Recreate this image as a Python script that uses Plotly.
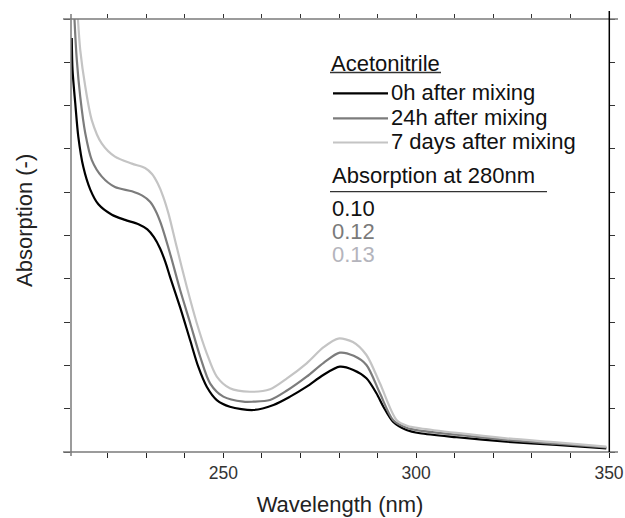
import plotly.graph_objects as go

# ---------------- data ----------------
wl_0h = [210.7, 210.9, 211.6, 212.4, 213.7, 215.5, 217.6, 221.1, 224.5, 228.0, 230.3, 232.0,
         233.6, 235.0, 236.2, 238.8, 241.4, 243.5, 245.7, 248.3, 251.7, 257.8, 263.0, 267.3, 271.6,
         275.9, 280.2, 283.7, 287.1, 289.7, 291.5, 294.0, 297.5, 301.0, 310.5, 323.4, 336.4, 349.3]
abs_0h = [0.478, 0.441, 0.403, 0.364, 0.329, 0.303, 0.286, 0.274, 0.268, 0.263, 0.257, 0.248,
          0.235, 0.219, 0.202, 0.167, 0.129, 0.0985, 0.0754, 0.060, 0.0523, 0.0485, 0.0543, 0.0639, 0.0754,
          0.0889, 0.0985, 0.0947, 0.0851, 0.0678, 0.0523, 0.035, 0.0254, 0.0216, 0.017, 0.0119, 0.0081, 0.0043]

wl_24h = [210.9, 211.4, 212.0, 212.9, 214.2, 215.9, 218.5, 221.9, 226.3, 229.0, 231.0, 232.4, 233.8,
          236.2, 238.8, 241.4, 244.0, 246.6, 250.0, 255.2, 257.7, 262.1, 266.5, 271.6, 276.0,
          280.2, 283.8, 287.1, 290.6, 294.0, 297.5, 301.0, 310.5, 323.4, 336.4, 349.3]
abs_24h = [0.56, 0.50, 0.453, 0.410, 0.368, 0.337, 0.318, 0.306, 0.301, 0.296, 0.289, 0.279, 0.264,
           0.229, 0.187, 0.149, 0.110, 0.079, 0.0639, 0.0581, 0.0581, 0.060, 0.071, 0.087, 0.103,
           0.1147, 0.111, 0.1005, 0.0678, 0.037, 0.028, 0.0246, 0.020, 0.0139, 0.0095, 0.0054]

wl_7d = [211.6, 212.3, 212.9, 214.2, 215.9, 218.5, 221.9, 226.3, 229.7, 231.5, 233.0, 234.4,
         235.8, 237.9, 240.5, 243.1, 245.7, 248.3, 251.7, 256.9, 262.1, 266.5, 271.6, 276.0, 279.8,
         283.6, 287.1, 290.6, 294.9, 297.8, 301.0, 310.5, 323.4, 336.4, 349.3]
abs_7d = [0.56, 0.50, 0.464, 0.422, 0.383, 0.356, 0.341, 0.333, 0.328, 0.321, 0.310, 0.295,
          0.275, 0.237, 0.191, 0.149, 0.114, 0.087, 0.0736, 0.0696, 0.0724, 0.085, 0.1024, 0.121, 0.131,
          0.127, 0.112, 0.0793, 0.037, 0.030, 0.0274, 0.022, 0.0158, 0.011, 0.0061]

series_names = ["0h after mixing", "24h after mixing", "7 days after mixing"]
series_colors = ["#000000", "#7c7c7c", "#c4c4c4"]
abs280_labels = ["0.10", "0.12", "0.13"]
abs280_colors = ["#111111", "#7a7a7a", "#b4b4bc"]
x_tick_vals = list(range(210, 351, 10))
x_tick_text = ["250" if v == 250 else "300" if v == 300 else "350" if v == 350 else "" for v in x_tick_vals]
y_tick_vals = [i * 0.05 for i in range(0, 11)]

# ---------------- figure ----------------
W, H = 625, 518
L, R, T, B = 71, 16, 19, 66
PW, PH = W - L - R, H - T - B

def px(x):
    return (x - L) / PW

def py(y):
    return (H - B - y) / PH

FONT = "Arial, Liberation Sans, sans-serif"

fig = go.Figure()
for wl, ab, name, col in zip([wl_0h, wl_24h, wl_7d], [abs_0h, abs_24h, abs_7d],
                             series_names, series_colors):
    fig.add_trace(go.Scatter(x=wl, y=ab, mode="lines", name=name,
                             line=dict(color=col, width=2.2, shape="spline", smoothing=0.8),
                             showlegend=False, xaxis="x", yaxis="y"))

# invisible trace so the mirrored (top / right) tick axes are drawn
fig.add_trace(go.Scatter(x=[210.5], y=[0], mode="markers", marker=dict(opacity=0),
                         showlegend=False, xaxis="x2", yaxis="y2", hoverinfo="skip"))

XR = [210.5, 350]
YR = [0, 0.5]
fig.update_layout(
    width=W, height=H,
    margin=dict(l=L, r=R, t=T, b=B, autoexpand=False),
    paper_bgcolor="white", plot_bgcolor="white",
    font=dict(family=FONT, color="#222222"),
    xaxis=dict(range=XR, tickmode="array", tickvals=x_tick_vals, ticktext=x_tick_text,
               ticks="outside", ticklen=5, tickwidth=1.3, tickcolor="#222222",
               showgrid=False, zeroline=False, showline=False, automargin=False,
               tickfont=dict(size=17.5, color="#333333"),
               title=dict(text="Wavelength (nm)", font=dict(size=22, color="#222222"), standoff=14)),
    yaxis=dict(range=YR, tickmode="array", tickvals=y_tick_vals, ticks="outside", ticklen=6,
               tickwidth=1.3, tickcolor="#333333", showticklabels=False, automargin=False,
               showgrid=False, zeroline=False, showline=False),
    xaxis2=dict(range=XR, overlaying="x", side="top", tickmode="array", tickvals=x_tick_vals,
                ticks="outside", ticklen=4, tickwidth=1.3, tickcolor="#333333", automargin=False,
                showticklabels=False, showgrid=False, zeroline=False, showline=False),
    yaxis2=dict(range=YR, overlaying="y", side="right", tickmode="array", tickvals=y_tick_vals,
                ticks="outside", ticklen=5, tickwidth=1.3, tickcolor="#333333", automargin=False,
                showticklabels=False, showgrid=False, zeroline=False, showline=False),
)

shapes = []
# frame lines (extend slightly beyond plot area like the reference)
shapes.append(dict(type="line", xref="paper", yref="paper", x0=px(63), x1=px(618), y0=py(452), y1=py(452),
                   line=dict(color="#7a7a7a", width=1.5)))
shapes.append(dict(type="line", xref="paper", yref="paper", x0=px(63), x1=px(618), y0=py(19), y1=py(19),
                   line=dict(color="#7a7a7a", width=1.5)))
shapes.append(dict(type="line", xref="paper", yref="paper", x0=px(71), x1=px(71), y0=py(456), y1=py(14),
                   line=dict(color="#7a7a7a", width=1.5)))
shapes.append(dict(type="line", xref="paper", yref="paper", x0=px(609.3), x1=px(609.3), y0=py(452), y1=py(11),
                   line=dict(color="#000000", width=1.5)))

annotations = []
# y axis title (sits a little above the centre of the axis in the reference)
annotations.append(dict(text="Absorption (-)", x=px(24), y=py(221), xref="paper", yref="paper",
                        xanchor="center", yanchor="middle", textangle=-90, showarrow=False,
                        font=dict(size=22, color="#222222", family=FONT)))

# legend block
annotations.append(dict(text="Acetonitrile", x=px(329), y=py(63), xref="paper", yref="paper",
                        xanchor="left", yanchor="middle", showarrow=False,
                        font=dict(size=22, color="#111111", family=FONT)))
shapes.append(dict(type="line", xref="paper", yref="paper", x0=px(330), x1=px(441), y0=py(72.5), y1=py(72.5),
                   line=dict(color="#333333", width=1.3)))
for name, col, yy in zip(series_names, series_colors, [93.3, 118.3, 142.5]):
    shapes.append(dict(type="line", xref="paper", yref="paper", x0=px(333), x1=px(388), y0=py(yy), y1=py(yy),
                       line=dict(color=col, width=2.2)))
    annotations.append(dict(text=name, x=px(389), y=py(yy - 1), xref="paper", yref="paper",
                            xanchor="left", yanchor="middle", showarrow=False,
                            font=dict(size=22, color="#111111", family=FONT)))
annotations.append(dict(text="Absorption at 280nm", x=px(330), y=py(175), xref="paper", yref="paper",
                        xanchor="left", yanchor="middle", showarrow=False,
                        font=dict(size=22, color="#111111", family=FONT)))
shapes.append(dict(type="line", xref="paper", yref="paper", x0=px(330), x1=px(547), y0=py(191.7), y1=py(191.7),
                   line=dict(color="#333333", width=1.3)))
for lab, col, yy in zip(abs280_labels, abs280_colors, [208.3, 230.5, 253.5]):
    annotations.append(dict(text=lab, x=px(330), y=py(yy), xref="paper", yref="paper",
                            xanchor="left", yanchor="middle", showarrow=False, height=20,
                            font=dict(size=22, color=col, family=FONT)))

fig.update_layout(shapes=shapes, annotations=annotations)
fig.write_html("out.html", config={"displayModeBar": False},
               post_script="document.body.style.margin='0';document.body.style.overflow='hidden';")
